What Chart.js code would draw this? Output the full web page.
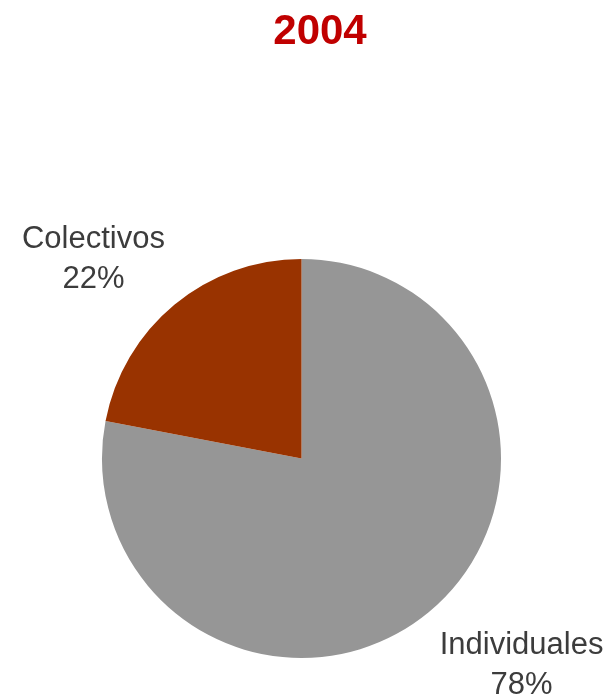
<!DOCTYPE html>
<html>
<head>
<meta charset="utf-8">
<script src="https://cdn.jsdelivr.net/npm/chart.js@4.4.1/dist/chart.umd.min.js"></script>
<style>
    html, body { margin: 0; padding: 0; background: #ffffff; }
    #box { width: 610px; height: 697px; position: relative; }
</style>
</head>
<body>
<div id="box"><canvas id="pieChart"></canvas></div>
<script>
// Chart data
const chartTitle = '2004';
const categories = ['Individuales', 'Colectivos'];
const shares = [78, 22];
const sliceColors = ['#969696', '#993300'];

// Label placement, as multiples of the pie radius (label centre x, first baseline y)
const labelSpots = [
    { dx: 1.103, dy: 0.982 },
    { dx: -1.043, dy: -1.053 }
];

// Plugin to draw the title and the category / percent labels
const labelPlugin = {
    id: 'pieLabels',
    afterDraw(chart) {
        const ctx = chart.ctx;
        const area = chart.chartArea;
        ctx.save();

        // title
        ctx.fillStyle = '#c00000';
        ctx.font = 'bold 42px "Liberation Sans", Arial, sans-serif';
        ctx.textAlign = 'center';
        ctx.textBaseline = 'alphabetic';
        ctx.fillText(chartTitle, 320, 44);

        // slice labels
        const arcs = chart.getDatasetMeta(0).data;
        const total = shares.reduce((a, b) => a + b, 0);
        ctx.fillStyle = '#3c3c3c';
        ctx.font = '31px "Liberation Sans", Arial, sans-serif';
        arcs.forEach((arc, i) => {
            const r = arc.outerRadius;
            const x = arc.x + labelSpots[i].dx * r;
            const y = arc.y + labelSpots[i].dy * r;
            const pct = Math.round(shares[i] / total * 100) + '%';
            ctx.fillText(categories[i], x, y);
            ctx.fillText(pct, x, y + 40);
        });
        ctx.restore();
    }
};

const ctx = document.getElementById('pieChart').getContext('2d');
new Chart(ctx, {
    type: 'pie',
    data: {
        labels: categories,
        datasets: [{
            data: shares,
            backgroundColor: sliceColors,
            borderWidth: 0
        }]
    },
    options: {
        responsive: true,
        maintainAspectRatio: false,
        animation: false,
        layout: {
            padding: { top: 259, bottom: 39, left: 102, right: 109 }
        },
        plugins: {
            legend: { display: false },
            tooltip: { enabled: false },
            title: { display: false }
        }
    },
    plugins: [labelPlugin]
});
</script>
</body>
</html>
